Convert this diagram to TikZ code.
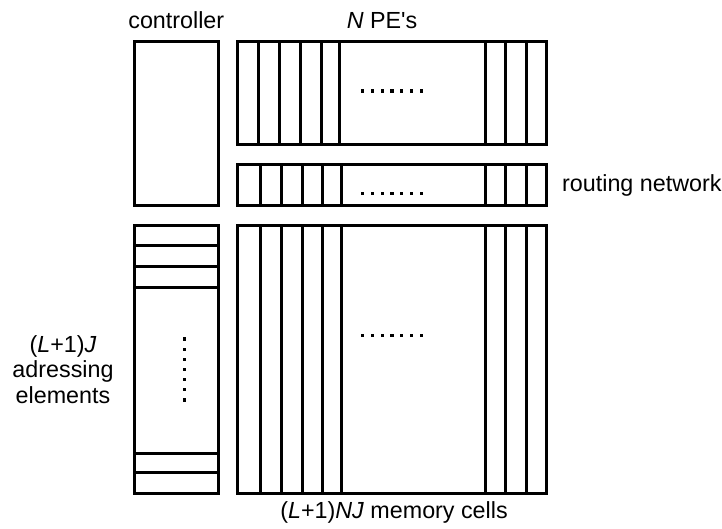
\documentclass[tikz,border=0pt]{standalone}
\usepackage{fontspec}
\setmainfont{Liberation Sans}[Ligatures=TeXOff]
\begin{document}
\begin{tikzpicture}[x=1pt,y=-1pt,line width=3pt,
  block/.style={draw,line width=3pt,rectangle,inner sep=0pt,outer sep=0pt},
  lbl/.style={font=\fontsize{23.3}{25.5}\selectfont,inner sep=0pt,anchor=base},
  sq/.style={fill=black,draw=none}]
\useasboundingbox (0,0) rectangle (722,528);

% blocks
\node[block,minimum width=84pt,minimum height=164pt]   (ctrl) at (176.3,123)   {};
\node[block,minimum width=309pt,minimum height=103pt]  (pe)   at (392.2,92.5)  {};
\node[block,minimum width=309pt,minimum height=41pt]   (rt)   at (392.2,184.5) {};
\node[block,minimum width=309pt,minimum height=267.6pt](mem)  at (392.2,359.5) {};
\node[block,minimum width=84pt,minimum height=267.6pt] (addr) at (176.3,359.5) {};

% processing element columns
\foreach \d in {21,41.6,62.3,83.3,102}
  \draw ([xshift=\d pt]pe.north west) -- ([xshift=\d pt]pe.south west);
\foreach \d in {20.7,41,61.7}
  \draw ([xshift=-\d pt]pe.north east) -- ([xshift=-\d pt]pe.south east);

% routing network and memory columns
\foreach \n in {rt,mem}{
  \foreach \d in {23,44,64.8,84.8,103.3}
    \draw ([xshift=\d pt]\n.north west) -- ([xshift=\d pt]\n.south west);
  \foreach \d in {20.7,41,61.7}
    \draw ([xshift=-\d pt]\n.north east) -- ([xshift=-\d pt]\n.south east);
}

% addressing element rows
\foreach \d in {19.8,41,61.8}
  \draw ([yshift=-\d pt]addr.north west) -- ([yshift=-\d pt]addr.north east);
\foreach \d in {20.6,40}
  \draw ([yshift=\d pt]addr.south west) -- ([yshift=\d pt]addr.south east);

% ellipsis dots
\foreach \i in {0,...,6}{
  \fill[sq] (362.6+9.8*\i-1.6,91-1.6) rectangle ++(3.2,3.2);
  \fill[sq] (362.6+9.8*\i-1.6,193.3-1.6) rectangle ++(3.2,3.2);
  \fill[sq] (362.6+9.8*\i-1.6,335.7-1.6) rectangle ++(3.2,3.2);
  \fill[sq] (184.3-1.6,339+10.15*\i-1.6) rectangle ++(3.2,3.2);
}

% labels
\node[lbl] (ctrllbl) at (176.3,28.5) {controller};
\node[lbl] (pelbl) at (382,28.5) {\textit{N} PE's};
\node[lbl,anchor=base west] (rtlbl) at (560.7,191.7) {routing network};
\node[lbl] (memlbl) at (394,518) {(\textit{L}+1)\textit{NJ} memory cells};
\node[lbl] (addr1) at (63,352.7) {(\textit{L}+1)\textit{J}};
\node[lbl] (addr2) at (63,377.7) {adressing};
\node[lbl] (addr3) at (63,403.3) {elements};
\end{tikzpicture}
\end{document}
